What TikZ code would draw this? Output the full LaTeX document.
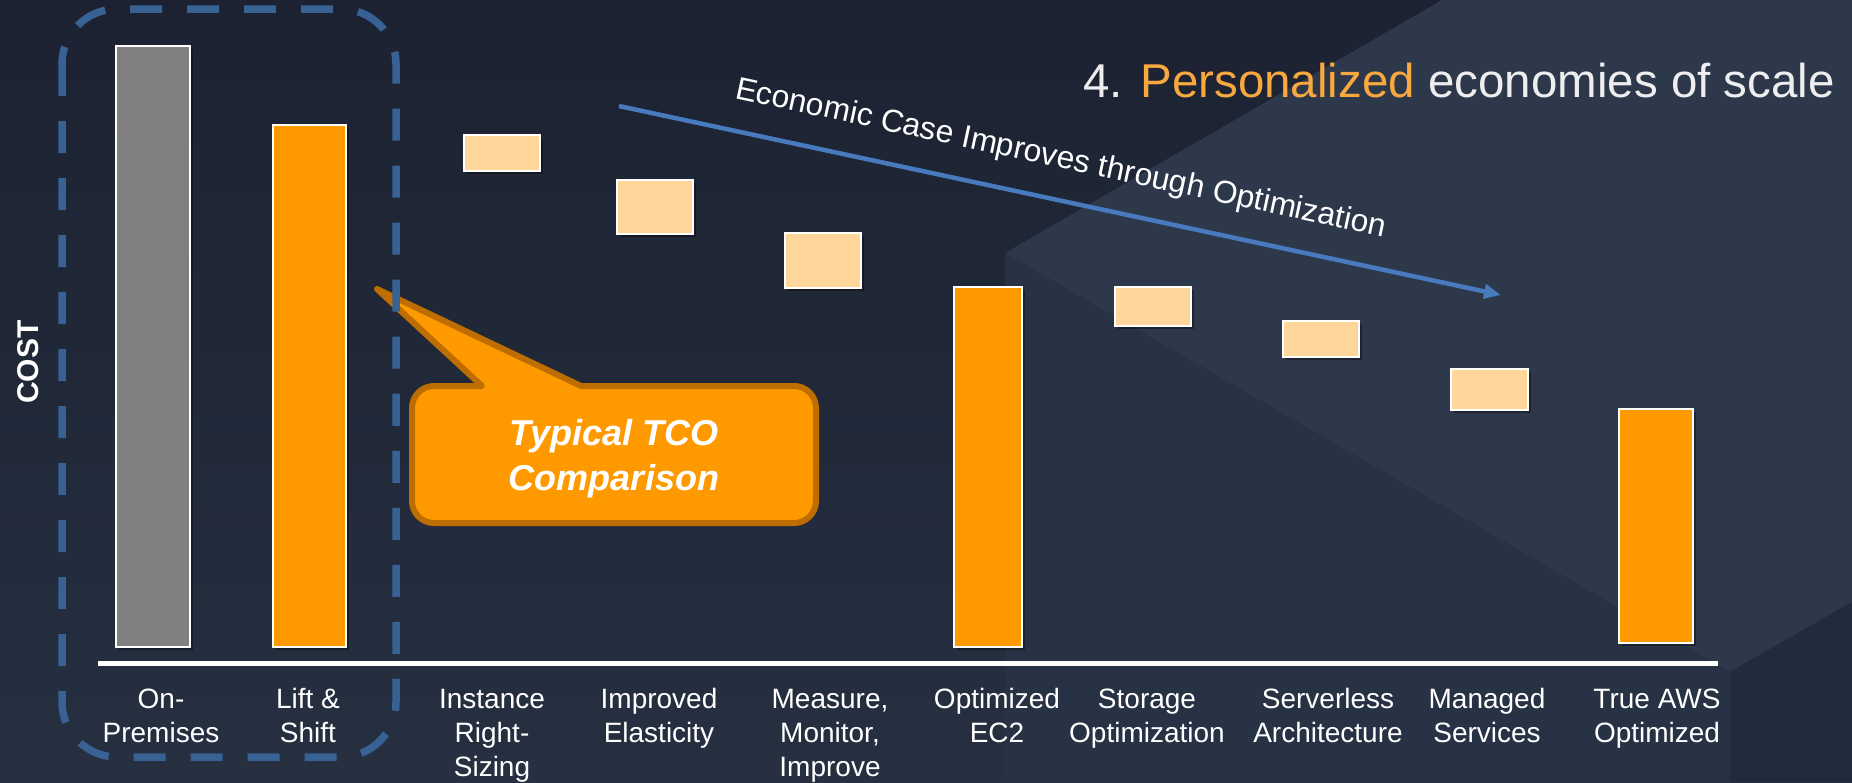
\documentclass[tikz,border=0pt]{standalone}
\usepackage{fontspec}
\setmainfont{Liberation Sans}
\usetikzlibrary{arrows.meta,shadows}

\definecolor{bgtop}{RGB}{28,34,49}
\definecolor{bgbot}{RGB}{38,48,65}
\definecolor{faceA}{RGB}{45,56,75}
\definecolor{faceB}{RGB}{39,50,68}
\definecolor{faceC}{RGB}{34,43,59}
\definecolor{awsorange}{RGB}{255,153,0}
\definecolor{peach}{RGB}{255,214,153}
\definecolor{bargray}{RGB}{128,128,128}
\definecolor{dashblue}{RGB}{56,97,148}
\definecolor{arrowblue}{RGB}{72,122,190}
\definecolor{titleorange}{RGB}{248,168,62}
\definecolor{titlewhite}{RGB}{238,238,238}
\definecolor{calloutedge}{RGB}{190,110,0}

\begin{document}
\begin{tikzpicture}[x=1pt,y=-1pt,
  barbox/.style={draw=white, line width=1.5pt, inner sep=0pt, outer sep=0pt, anchor=north west,
    drop shadow={shadow xshift=3pt,shadow yshift=-3pt,opacity=0.35,fill=black}},
  tallbar/.style={barbox, fill=awsorange},
  stepbox/.style={barbox, fill=peach},
  lbl/.style={text=white, align=center, font=\fontsize{28}{34}\selectfont, anchor=base, inner sep=0pt},
]
\useasboundingbox (0,0) rectangle (1852,782);
% background
\shade[top color=bgtop, bottom color=bgbot] (0,0) rectangle (1852,782);
\fill[faceA] (1005,253) -- (1442,0) -- (1852,0) -- (1852,602) -- (1730,672) -- cycle;
\fill[faceB] (1005,253) -- (1730,672) -- (1730,782) -- (1005,782) -- cycle;
\fill[faceC] (1730,672) -- (1852,602) -- (1852,782) -- (1730,782) -- cycle;

% title
\node[anchor=base west, inner sep=0pt, font=\fontsize{47.5}{57}\selectfont, text=titlewhite] (title) at (1083,97)
  {4. \textcolor{titleorange}{Personalized} economies of scale};

% axis
\coordinate (axL) at (98,663);
\coordinate (axR) at (1718,663);
\draw[white, line width=5pt] (axL) -- (axR);

% bars and steps
\node[barbox, fill=bargray, minimum width=74pt, minimum height=601pt] (onprem) at (116,46) {};
\node[tallbar, minimum width=73pt, minimum height=522pt] (lift) at (273,125) {};
\node[stepbox, minimum width=76pt, minimum height=36pt] (inst) at (464,135) {};
\node[stepbox, minimum width=76pt, minimum height=54pt] (elas) at (617,180) {};
\node[stepbox, minimum width=76pt, minimum height=55pt] (meas) at (785,233) {};
\node[tallbar, minimum width=68pt, minimum height=360pt] (ec2) at (954,287) {};
\node[stepbox, minimum width=76pt, minimum height=39pt] (stor) at (1115,287) {};
\node[stepbox, minimum width=76pt, minimum height=36pt] (serv) at (1283,321) {};
\node[stepbox, minimum width=77pt, minimum height=41pt] (mng) at (1451,369) {};
\node[tallbar, minimum width=74pt, minimum height=234pt] (aws) at (1619,409) {};

% labels (base anchor = baseline of last line)
\node[lbl] (l1) at (161,742) {On-\\Premises};
\node[lbl] (l2) at (308,742) {Lift \&\\Shift};
\node[lbl] (l3) at (492,776) {Instance\\Right-\\Sizing};
\node[lbl] (l4) at (659,742) {Improved\\Elasticity};
\node[lbl] (l5) at (830,776) {Measure,\\Monitor,\\Improve};
\node[lbl] (l6) at (997,742) {Optimized\\EC2};
\node[lbl] (l7) at (1147,742) {Storage\\Optimization};
\node[lbl] (l8) at (1328,742) {Serverless\\Architecture};
\node[lbl] (l9) at (1487,742) {Managed\\Services};
\node[lbl] (l10) at (1657,742) {True AWS\\Optimized};

% COST
\node[rotate=90, text=white, font=\bfseries\fontsize{30}{36}\selectfont, inner sep=0pt] (cost) at (28,362) {COST};

% trend arrow
\coordinate (arS) at (619,106);
\coordinate (arE) at (1501,295);
\draw[arrowblue, line width=4.5pt, -{Triangle[length=17pt,width=14pt]}] (arS) -- (arE);
\node[rotate=-12.07, anchor=base, inner sep=0pt, text=white, font=\fontsize{31.8}{38}\selectfont] (artext) at (1059,167.5)
  {Economic Case Improves through Optimization};

% callout
\filldraw[fill=awsorange, draw=calloutedge, line width=6pt, line join=round]
  (412,501) -- (412,408) arc[start angle=180,end angle=90,radius=22pt]
  -- (482,386) -- (377,289) -- (581,386) -- (794,386)
  arc[start angle=90,end angle=0,radius=22pt] -- (816,501)
  arc[start angle=0,end angle=-90,radius=22pt] -- (434,523)
  arc[start angle=270,end angle=180,radius=22pt] -- cycle;
\node[text=white, align=center, anchor=base, inner sep=0pt, font=\bfseries\itshape\fontsize{36}{45}\selectfont] (callout) at (614,490)
  {Typical TCO\\Comparison};

% dashed group
\draw[dashblue, line width=7.5pt, dash pattern=on 32pt off 25pt, rounded corners=55pt] (62,9) rectangle (396,757);
\end{tikzpicture}
\end{document}
